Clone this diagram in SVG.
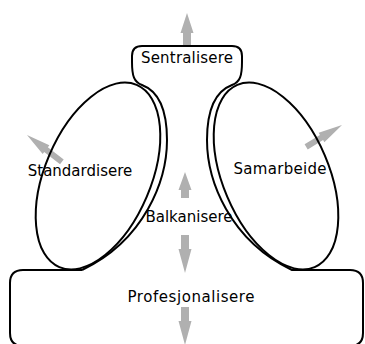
<svg xmlns="http://www.w3.org/2000/svg" width="365" height="344" viewBox="0 0 365 344">
<style>
.line{fill:none;stroke:#000;stroke-width:2;stroke-linejoin:round}
.arrow{fill:#b0b0b0;stroke:none}
.lbl{font-family:"DejaVu Sans","Liberation Sans",sans-serif;font-size:15px;fill:#000;text-anchor:middle}
</style>
<rect width="365" height="344" fill="#fff"/>
<g id="body">
<path class="line" d="M 82,270 L 23,270 Q 10,270 10,283 L 10,333 Q 10,346 23,346 L 350,346 Q 363,346 363,333 L 363,283 Q 363,270 350,270 L 292,270 C 229,240 207,180 207,140 C 207,108 216,91 232,85 C 240,82 242,76 242,62 L 242,56 Q 242,46 232,46 L 142,46 Q 132,46 132,56 L 132,62 C 132,76 134,82 142,85 C 158,91 167,108 167,140 C 167,180 145,240 82,270"/>
</g>
<g id="arrows">
<path class="arrow" transform="translate(187,13)" d="M0,0 L6.5,20 L4,20 L4,32 L-4,32 L-4,20 L-6.5,20 Z"/>
<path class="arrow" transform="translate(185,172)" d="M0,0 L6.5,18 L4,18 L4,26 L-4,26 L-4,18 L-6.5,18 Z"/>
<path class="arrow" transform="translate(185,273) rotate(180)" d="M0,0 L6.5,24 L4,24 L4,38 L-4,38 L-4,24 L-6.5,24 Z"/>
<path class="arrow" transform="translate(185,345) rotate(180)" d="M0,0 L6.5,24 L4,24 L4,38 L-4,38 L-4,24 L-6.5,24 Z"/>
<path class="arrow" transform="translate(27,135) rotate(-52.4)" d="M0,0 L5.5,24 L3,24 L3,44 L-3,44 L-3,24 L-5.5,24 Z"/>
<path class="arrow" transform="translate(342,125) rotate(58.6)" d="M0,0 L5.5,24 L3,24 L3,42 L-3,42 L-3,24 L-5.5,24 Z"/>
</g>
<g id="standardisere">
<ellipse class="line" cx="98" cy="176" rx="53" ry="99" transform="rotate(23 98 176)"/>
<text class="lbl" x="80" y="176">Standardisere</text>
</g>
<g id="samarbeide">
<ellipse class="line" cx="276" cy="176" rx="53" ry="99" transform="rotate(-23 276 176)"/>
<text class="lbl" x="280" y="174" textLength="93" lengthAdjust="spacing">Samarbeide</text>
</g>
<g id="sentralisere">
<text class="lbl" x="187" y="63" textLength="92" lengthAdjust="spacing">Sentralisere</text>
</g>
<g id="balkanisere">
<text class="lbl" x="189" y="222">Balkanisere</text>
</g>
<g id="profesjonalisere">
<text class="lbl" x="191" y="302" textLength="127" lengthAdjust="spacing">Profesjonalisere</text>
</g>
</svg>
